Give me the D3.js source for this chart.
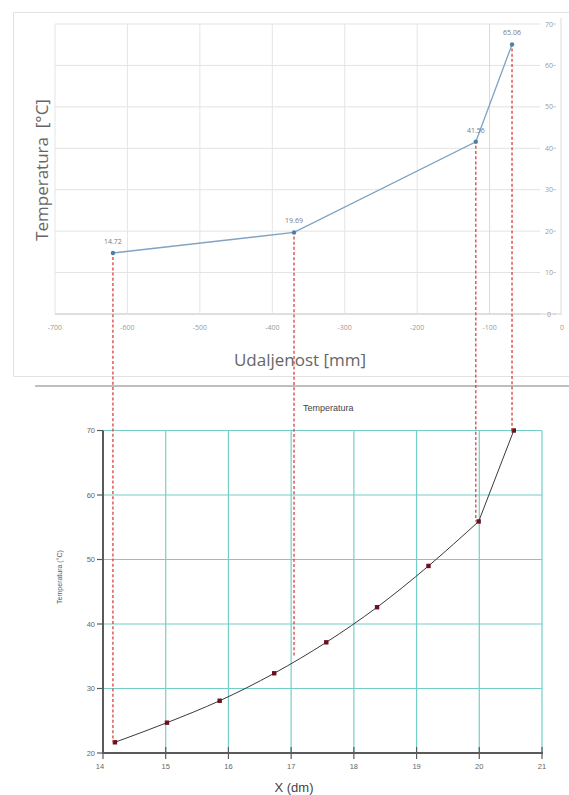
<!DOCTYPE html>
<html>
<head>
<meta charset="utf-8">
<script src="https://cdn.jsdelivr.net/npm/d3@7"></script>
<style>
  html, body { margin: 0; padding: 0; background: #fff; }
  svg { display: block; }
</style>
</head>
<body>
<svg id="chart" width="569" height="795"></svg>
<script>
// ---------- data ----------
// top chart: distance [mm] vs temperature [°C]
const topX = [-620, -370, -119, -69];
const topY = [14.72, 19.69, 41.56, 65.06];
const topLabels = ["14.72", "19.69", "41.56", "65.06"];
const topXTicks = [-700, -600, -500, -400, -300, -200, -100, 0];
const topYTicks = [0, 10, 20, 30, 40, 50, 60, 70];

// bottom chart: X (dm) vs temperature
const botX = [14.19, 15.02, 15.86, 16.73, 17.56, 18.37, 19.19, 19.99, 20.55];
const botY = [21.66, 24.7, 28.1, 32.36, 37.16, 42.6, 49.0, 55.9, 70.0];
const botXTicks = [14, 15, 16, 17, 18, 19, 20, 21];
const botYTicks = [20, 30, 40, 50, 60, 70];

// dashed connectors: ends on the bottom chart (temperature in bottom units)
const connectorEnds = [21.66, 34.9, 55.9, 70.0];

// ---------- drawing ----------
const svg = d3.select("#chart");

// ===== TOP CHART =====
const xT = d3.scaleLinear().domain([-700, 0]).range([55, 562]);
const yT = d3.scaleLinear().domain([0, 70]).range([314, 24]);

const gT = svg.append("g");
gT.append("path")
  .attr("d", "M569,12.5 H13.5 V376.5 H569")
  .attr("fill", "none").attr("stroke", "#e2e2e2").attr("stroke-width", 1);

gT.selectAll("line.hg").data(topYTicks).join("line")
  .attr("x1", xT(-700)).attr("x2", 540)
  .attr("y1", d => yT(d)).attr("y2", d => yT(d))
  .attr("stroke", d => d === 0 ? "#d4d4d4" : "#e3e3e3").attr("stroke-width", 1);
gT.append("line")
  .attr("x1", xT(-700)).attr("x2", xT(0)).attr("y1", yT(0)).attr("y2", yT(0))
  .attr("stroke", "#d4d4d4");
gT.selectAll("line.vg").data(topXTicks.filter(d => d < 0)).join("line")
  .attr("x1", d => xT(d)).attr("x2", d => xT(d))
  .attr("y1", yT(70)).attr("y2", yT(0))
  .attr("stroke", d => d === -100 ? "#f1cfcf" : "#e5e5e5").attr("stroke-width", 1);
gT.append("line")
  .attr("x1", xT(0) - 1).attr("x2", xT(0) - 1).attr("y1", 18).attr("y2", yT(0))
  .attr("stroke", "#dcdcdc");

gT.selectAll("text.xt").data(topXTicks).join("text")
  .attr("x", d => xT(d)).attr("y", 330)
  .attr("text-anchor", "middle")
  .attr("font-family", "Open Sans, sans-serif").attr("font-size", 7)
  .attr("fill", "#9a9a9a")
  .text(d => d);
gT.selectAll("text.yt").data(topYTicks).join("text")
  .attr("x", 549).attr("y", d => yT(d) + 2.5)
  .attr("text-anchor", "middle")
  .attr("font-family", "Open Sans, sans-serif").attr("font-size", 7)
  .attr("fill", "#9a9a9a")
  .text(d => d);
gT.selectAll("line.ytk").data(topYTicks).join("line")
  .attr("x1", 553).attr("x2", 556)
  .attr("y1", d => yT(d)).attr("y2", d => yT(d))
  .attr("stroke", "#c8c8c8");

gT.append("text")
  .attr("transform", "translate(48,170) rotate(-90)")
  .attr("text-anchor", "middle")
  .attr("font-family", "Open Sans, sans-serif").attr("font-size", 17)
  .attr("fill", "#666")
  .style("white-space", "pre")
  .text("Temperatura  [°C]");
gT.append("text")
  .attr("x", 300).attr("y", 366)
  .attr("text-anchor", "middle")
  .attr("font-family", "Open Sans, sans-serif").attr("font-size", 17)
  .attr("fill", "#666")
  .text("Udaljenost [mm]");

// ===== SEPARATOR =====
svg.append("line")
  .attr("x1", 35).attr("x2", 569).attr("y1", 386).attr("y2", 386)
  .attr("stroke", "#a8a8a8").attr("stroke-width", 1.5);

// ===== BOTTOM CHART =====
const xB = d3.scaleLinear().domain([14, 21]).range([103, 542]);
const yB = d3.scaleLinear().domain([20, 70]).range([753, 430.5]);
const gB = svg.append("g");
const gridColor = "#73cfc6";

gB.selectAll("line.bhg").data(botYTicks.filter(d => d > 20)).join("line")
  .attr("x1", xB(14)).attr("x2", xB(21))
  .attr("y1", d => yB(d)).attr("y2", d => yB(d))
  .attr("stroke", gridColor).attr("stroke-width", 1.2);
gB.selectAll("line.bvg").data(botXTicks.filter(d => d > 14)).join("line")
  .attr("x1", d => xB(d)).attr("x2", d => xB(d))
  .attr("y1", yB(70)).attr("y2", yB(20))
  .attr("stroke", gridColor).attr("stroke-width", 1.2);

gB.append("line")
  .attr("x1", xB(14)).attr("x2", xB(14)).attr("y1", yB(70)).attr("y2", yB(20) + 1)
  .attr("stroke", "#5a5a5a").attr("stroke-width", 2);
gB.append("line")
  .attr("x1", xB(14) - 1).attr("x2", xB(21) + 1).attr("y1", yB(20)).attr("y2", yB(20))
  .attr("stroke", "#5a5a5a").attr("stroke-width", 2);
gB.selectAll("line.bxt").data(botXTicks).join("line")
  .attr("x1", d => xB(d)).attr("x2", d => xB(d))
  .attr("y1", yB(20) - 6).attr("y2", yB(20) + 6)
  .attr("stroke", "#5a5a5a").attr("stroke-width", 1.2);
gB.selectAll("line.byt").data(botYTicks).join("line")
  .attr("x1", xB(14) - 6).attr("x2", xB(14))
  .attr("y1", d => yB(d)).attr("y2", d => yB(d))
  .attr("stroke", "#5a5a5a").attr("stroke-width", 1.2);

gB.selectAll("text.bxl").data(botXTicks).join("text")
  .attr("x", d => xB(d) - (d === 14 ? 3 : 0)).attr("y", 769)
  .attr("text-anchor", "middle")
  .attr("font-family", "Arial, Liberation Sans, sans-serif").attr("font-size", 7.5)
  .attr("fill", "#666")
  .text(d => d);
gB.selectAll("text.byl").data(botYTicks).join("text")
  .attr("x", xB(14) - 8).attr("y", d => yB(d) + 2.5)
  .attr("text-anchor", "end")
  .attr("font-family", "Arial, Liberation Sans, sans-serif").attr("font-size", 7.5)
  .attr("fill", "#666")
  .text(d => d);

gB.append("text")
  .attr("x", 303).attr("y", 410.5)
  .attr("font-family", "Arial, Liberation Sans, sans-serif").attr("font-size", 9)
  .attr("fill", "#444")
  .text("Temperatura");
gB.append("text")
  .attr("transform", "translate(62,577) rotate(-90)")
  .attr("text-anchor", "middle")
  .attr("font-family", "Arial, Liberation Sans, sans-serif").attr("font-size", 7)
  .attr("fill", "#555")
  .text("Temperatura (°C)");
gB.append("text")
  .attr("x", 294).attr("y", 792)
  .attr("text-anchor", "middle")
  .attr("font-family", "Arial, Liberation Sans, sans-serif").attr("font-size", 13)
  .attr("fill", "#444")
  .text("X (dm)");

// curve: smooth through the first points, straight final segment (kink at 20 dm)
const botPts = botX.map((x, i) => [x, botY[i]]);
const lineB = d3.line().x(d => xB(d[0])).y(d => yB(d[1]));
gB.append("path")
  .datum(botPts.slice(0, botPts.length - 1))
  .attr("d", lineB.curve(d3.curveMonotoneX))
  .attr("fill", "none").attr("stroke", "#3a3a3a").attr("stroke-width", 1);
gB.append("path")
  .datum(botPts.slice(botPts.length - 2))
  .attr("d", d3.line().x(d => xB(d[0])).y(d => yB(d[1])))
  .attr("fill", "none").attr("stroke", "#3a3a3a").attr("stroke-width", 1);
gB.selectAll("rect.bm").data(botPts).join("rect")
  .attr("x", d => xB(d[0]) - 2.2).attr("y", d => yB(d[1]) - 2.2)
  .attr("width", 4.4).attr("height", 4.4)
  .attr("fill", "#6a1020");

// ===== CONNECTORS =====
const gC = svg.append("g");
gC.selectAll("line.cn").data(topX).join("line")
  .attr("x1", d => xT(d)).attr("x2", d => xT(d))
  .attr("y1", (d, i) => yT(topY[i]) + 4)
  .attr("y2", (d, i) => yB(connectorEnds[i]))
  .attr("stroke", "#d8403c").attr("stroke-width", 1.3)
  .attr("stroke-dasharray", "3,2.2");

// ===== top series =====
const topPts = topX.map((x, i) => [x, topY[i]]);
gT.append("path")
  .datum(topPts)
  .attr("d", d3.line().x(d => xT(d[0])).y(d => yT(d[1])))
  .attr("fill", "none").attr("stroke", "#7fa3c3").attr("stroke-width", 1.3);
gT.selectAll("circle.tm").data(topPts).join("circle")
  .attr("cx", d => xT(d[0])).attr("cy", d => yT(d[1]))
  .attr("r", 2.2).attr("fill", "#4f7ea8");
gT.selectAll("text.tl").data(topPts).join("text")
  .attr("x", d => xT(d[0])).attr("y", d => yT(d[1]) - 9)
  .attr("text-anchor", "middle")
  .attr("font-family", "Open Sans, sans-serif").attr("font-size", 7)
  .attr("fill", "#7a7a7a")
  .text((d, i) => topLabels[i]);
</script>
</body>
</html>
